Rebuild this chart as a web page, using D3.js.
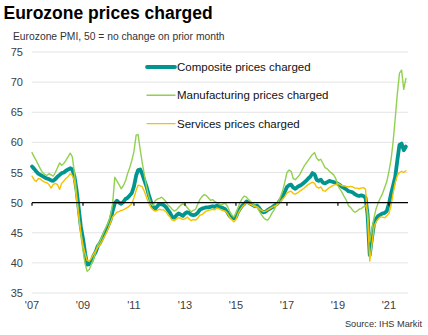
<!DOCTYPE html>
<html>
<head>
<meta charset="utf-8">
<style>
body { margin: 0; background: #fff; }
svg { font-family: "Liberation Sans", Arial, sans-serif; }
.grid line { stroke: #e4e4e4; stroke-width: 1; }
.ylab, .xlab { font-size: 11px; fill: #404040; }
.leg { font-size: 11.5px; fill: #111; }
.series { fill: none; stroke-linejoin: round; stroke-linecap: round; }
</style>
</head>
<body>
<svg width="428" height="335"></svg>
<script src="https://d3js.org/d3.v7.min.js"></script>
<script>

// monthly PMI readings, Jan 2007 onwards
var composite = [
  56.0, 55.6, 55.2, 54.8, 54.6, 54.4, 54.2, 54.0, 53.9, 53.7, 53.6, 53.9,
  54.3, 54.6, 54.9, 55.0, 55.3, 55.5, 55.7, 55.5, 54.3, 52.0, 49.0, 46.0,
  44.0, 41.5, 39.7, 39.8, 40.2, 41.2, 41.8, 42.8, 43.3, 44.0, 44.8, 45.5,
  46.3, 47.2, 48.6, 49.9, 50.3, 50.0, 49.8, 50.1, 50.6, 50.8, 51.2, 51.6,
  52.7, 54.5, 55.4, 55.5, 54.7, 53.6, 52.6, 51.3, 50.2, 49.3, 49.0, 49.4,
  49.8, 49.7, 49.6, 49.3, 48.8, 48.3, 47.6, 47.5, 47.9, 48.2, 48.0, 47.8,
  48.2, 48.4, 48.3, 48.0, 47.9, 48.0, 48.3, 48.8, 49.0, 49.1, 49.2, 49.2,
  49.3, 49.4, 49.3, 49.5, 49.4, 49.2, 49.1, 48.9, 48.4, 47.8, 47.5, 47.4,
  47.6, 48.5, 49.0, 49.5, 49.8, 50.2, 50.0, 49.8, 49.6, 49.4, 49.5, 49.1,
  48.6, 48.4, 48.5, 48.8, 49.0, 49.2, 49.5, 49.7, 50.0, 50.5, 51.0, 51.8,
  52.6, 52.9, 53.0, 52.5, 52.3, 52.6, 52.8, 53.0, 53.3, 53.6, 54.0, 54.3,
  54.9, 54.7, 53.8, 53.6, 53.8, 53.3, 53.2, 53.4, 53.6, 53.5, 53.4, 53.3,
  53.1, 52.9, 52.6, 52.4, 52.2, 51.9, 51.8, 51.7, 51.4, 51.2, 51.1, 51.2,
  51.1, 50.8, 48.0, 41.3, 44.0, 46.5, 47.3, 47.8, 48.0, 48.2, 48.3, 48.6,
  49.8, 51.5, 52.8, 54.3, 57.0, 59.6, 59.8, 58.7, 59.3
];

var manufacturing = [
  58.3, 57.6, 57.0, 56.3, 55.6, 55.0, 54.7, 54.5, 54.8, 54.6, 54.4, 55.0,
  55.8, 56.6, 56.2, 56.5, 57.0, 57.6, 58.2, 57.6, 54.8, 51.5, 48.0, 44.6,
  42.0, 39.8, 38.6, 38.9, 39.8, 40.6, 41.8, 43.0, 43.6, 44.4, 45.3, 46.0,
  46.8, 48.0, 49.8, 54.2, 53.6, 53.0, 52.3, 52.8, 53.6, 54.8, 55.8, 57.0,
  58.5, 61.2, 61.3, 58.7, 56.5, 54.5, 52.5, 51.0, 49.8, 49.5, 50.3, 50.6,
  50.7, 50.9, 50.6, 50.2, 49.6, 49.3, 48.9, 48.6, 48.8, 49.2, 49.6, 49.8,
  49.6, 49.2, 48.8, 48.5, 48.7, 48.9, 49.7, 50.5, 51.0, 51.3, 51.2, 50.8,
  50.4, 50.5, 50.2, 50.0, 49.8, 49.6, 49.8, 49.9, 49.4, 48.6, 48.0, 47.6,
  48.3, 49.2, 50.0, 50.7, 51.1, 50.9, 50.5, 50.2, 49.8, 49.5, 49.2, 48.6,
  48.0, 47.5, 47.2, 47.1, 47.6, 48.3, 48.8, 49.6, 50.2, 51.0, 52.0, 53.4,
  55.0, 55.4, 55.2, 54.0, 53.8, 54.2, 54.6, 55.3, 56.0, 56.5, 57.0, 57.5,
  58.0, 58.3, 57.4, 57.0, 57.2, 56.5, 55.8, 55.6, 55.2, 54.9, 54.6, 54.0,
  52.8, 52.2, 51.7, 51.0, 50.4, 49.5, 49.2, 48.7, 48.4, 48.6, 48.9, 49.0,
  49.3, 49.5, 48.5, 43.5, 45.5, 47.5, 49.0, 50.0, 50.8, 51.5, 52.5, 53.5,
  55.2, 57.2, 60.0, 64.0, 68.0, 71.5, 72.0, 68.8, 70.6
];

var services = [
  54.4, 53.8, 53.5, 54.0, 53.9, 53.6, 53.4, 53.3, 53.0, 52.4, 53.0, 53.2,
  53.0, 52.2, 53.2, 53.6, 54.0, 54.3, 54.8, 54.5, 53.6, 50.5, 47.8, 45.0,
  43.0, 41.5, 40.4, 40.3, 40.8, 41.5, 42.0, 42.6, 43.0, 43.6, 44.3, 45.0,
  45.8, 46.8, 47.6, 48.0, 48.4, 48.5, 48.7, 48.8, 49.0, 49.2, 49.5, 49.8,
  50.8, 52.0, 52.9, 52.8, 52.6, 51.8, 50.8, 49.9, 49.2, 48.8, 48.6, 48.7,
  48.9, 48.8, 48.8, 48.5, 48.0, 47.6, 47.1, 47.0, 47.3, 47.5, 47.4, 47.2,
  47.3, 47.6, 47.3, 47.0, 47.2, 47.1, 47.4, 47.9, 48.0, 48.3, 48.6, 48.7,
  48.8, 48.9, 48.8, 49.1, 49.0, 48.8, 48.7, 48.6, 48.2, 47.6, 47.2, 46.8,
  47.2, 48.2, 48.8, 49.3, 49.6, 50.0, 49.8, 49.7, 49.5, 49.3, 49.3, 49.0,
  48.7, 48.5, 48.6, 48.8, 49.0, 49.2, 49.4, 49.5, 49.8, 50.2, 50.6, 51.0,
  51.6, 51.8, 51.9, 51.5, 51.4, 51.6, 51.9, 52.1, 52.4, 52.7, 53.0, 53.2,
  53.4, 53.2, 52.6, 52.4, 52.6, 52.0, 51.9, 52.2, 52.5, 52.7, 52.9, 53.0,
  53.2, 53.0, 52.8, 52.8, 52.7, 52.6, 52.7, 52.6, 52.4, 52.4, 52.3, 52.4,
  52.5, 52.2, 47.5, 40.3, 43.0, 46.0, 46.8, 47.3, 47.6, 47.6, 47.5, 47.8,
  48.2, 49.6, 51.5, 53.3, 54.5, 55.0, 55.2, 55.0, 55.3
];

var seriesNames = ["Composite prices charged", "Manufacturing prices charged", "Services prices charged"];
var seriesColors = ["#00968f", "#92d050", "#f5c200"];
var seriesWidths = [3.8, 1.4, 1.4];
var yTicks = [35, 40, 45, 50, 55, 60, 65, 70, 75];
var xTickYears = [2007, 2009, 2011, 2013, 2015, 2017, 2019, 2021];

var svg = d3.select("svg");

var x = d3.scaleTime()
    .domain([new Date(2007, 0, 1), new Date(2021, 9, 1)])
    .range([32, 408]);
var y = d3.scaleLinear().domain([35, 75]).range([293, 52]);

function month(i) { return new Date(2007, i, 1); }

svg.append("text")
    .attr("x", 3.5).attr("y", 18.5)
    .style("font-size", "17.5px").style("font-weight", "bold")
    .text("Eurozone prices charged");

svg.append("text")
    .attr("x", 13).attr("y", 40)
    .style("font-size", "10.3px").style("fill", "#333")
    .text("Eurozone PMI, 50 = no change on prior month");

// horizontal gridlines
svg.append("g").attr("class", "grid")
  .selectAll("line")
  .data(yTicks.filter(function(v) { return v != 50; }))
  .enter().append("line")
    .attr("x1", 32).attr("x2", 408)
    .attr("y1", function(d) { return y(d); })
    .attr("y2", function(d) { return y(d); });

svg.append("g")
  .selectAll("text")
  .data(yTicks)
  .enter().append("text")
    .attr("class", "ylab")
    .attr("x", 23)
    .attr("y", function(d) { return y(d) + 4; })
    .attr("text-anchor", "end")
    .text(function(d) { return d; });

svg.append("g")
  .selectAll("text")
  .data(xTickYears)
  .enter().append("text")
    .attr("class", "xlab")
    .attr("x", function(d) { return x(new Date(d, 0, 1)); })
    .attr("y", 309)
    .attr("text-anchor", "middle")
    .text(function(d) { return "'" + String(d).slice(2); });

var line = d3.line()
    .x(function(d, i) { return x(month(i)); })
    .y(function(d) { return y(d); });

[composite, manufacturing, services].forEach(function(s, k) {
  svg.append("path")
      .datum(s)
      .attr("class", "series")
      .attr("stroke", seriesColors[k])
      .attr("stroke-width", seriesWidths[k])
      .attr("d", line);
});

// the 50 line, drawn over the series, with small ticks under it
var axis50 = svg.append("g").attr("transform", "translate(0," + y(50) + ")");
axis50.append("line")
    .attr("x1", 32).attr("x2", 408)
    .attr("stroke", "#000").attr("stroke-width", 1.3);
axis50.selectAll(".tk")
  .data(xTickYears)
  .enter().append("line")
    .attr("class", "tk")
    .attr("x1", function(d) { return x(new Date(d, 0, 1)); })
    .attr("x2", function(d) { return x(new Date(d, 0, 1)); })
    .attr("y1", 0).attr("y2", 3)
    .attr("stroke", "#000").attr("stroke-width", 1.2);

// legend
var legend = svg.append("g")
  .selectAll("g")
  .data(seriesNames)
  .enter().append("g")
    .attr("transform", function(d, i) { return "translate(147," + (67 + i * 28.3) + ")"; });
legend.append("line")
    .attr("x1", 0).attr("x2", 28)
    .attr("stroke", function(d, i) { return seriesColors[i]; })
    .attr("stroke-width", function(d, i) { return seriesWidths[i]; })
    .attr("stroke-linecap", "round");
legend.append("text")
    .attr("class", "leg")
    .attr("x", 30).attr("y", 4)
    .text(function(d) { return d; });

svg.append("text")
    .attr("x", 422).attr("y", 327)
    .attr("text-anchor", "end")
    .style("font-size", "9.2px").style("fill", "#333")
    .text("Source: IHS Markit");

</script>
</body>
</html>
